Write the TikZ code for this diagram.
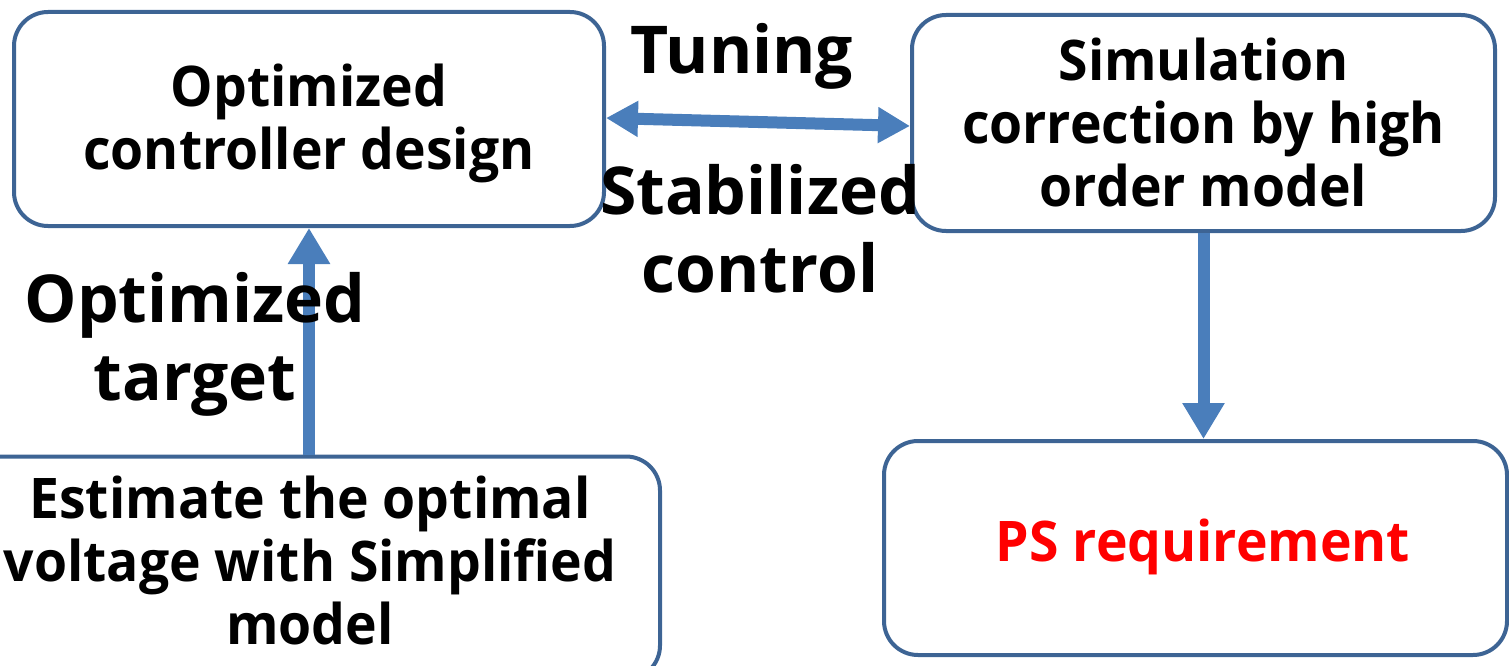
\documentclass[tikz,border=0pt]{standalone}
\usepackage{fontspec}
\newfontfamily\dfont{Open Sans}
\newfontfamily\nfont{Open Sans}[FakeStretch=0.955]
\usetikzlibrary{arrows.meta}
\definecolor{boxline}{HTML}{3D6494}
\definecolor{arrowblue}{HTML}{4A7EBB}
\definecolor{psred}{HTML}{FF0000}
\tikzset{
  stagebox/.style={draw=boxline, line width=4pt, rounded corners=34pt, fill=white, inner sep=0pt},
  boxtext/.style={align=center, inner sep=0pt, font=\nfont\bfseries\fontsize{56}{63}\selectfont},
  flowarrow/.style={draw=arrowblue, line width=12pt,
    -{Triangle[length=36pt,width=40pt]}},
  biarrow/.style={draw=arrowblue, line width=12pt,
    {Triangle[length=32pt,width=34pt]}-{Triangle[length=32pt,width=34pt]}},
  biglabel/.style={align=center, inner sep=0pt, font=\dfont\bfseries\fontsize{66}{78}\selectfont}
}
\begin{document}
\begin{tikzpicture}[x=1pt,y=-1pt]
\useasboundingbox (0,0) rectangle (1509,666);
\node[stagebox, minimum width=590pt, minimum height=214pt] (A) at (309,119) {};
\node[stagebox, minimum width=583pt, minimum height=216pt] (B) at (1203.5,123) {};
\node[stagebox, minimum width=700pt, minimum height=223pt] (C) at (310,568) {};
\node[stagebox, minimum width=623pt, minimum height=214pt] (D) at (1195.5,548) {};
\node[boxtext] (At) at (309,123) {Optimized\\controller design};
\node[boxtext] (Bt) at (1203.5,122) {Simulation\\correction by high\\order model};
\node[boxtext] (Ct) at (310,560) {Estimate the optimal\\voltage with Simplified\\model};
\node[boxtext, text=psred] (Dt) at (1203,547) {PS requirement};
\draw[biarrow] ([yshift=1pt]A.east) -- ([yshift=-3pt]B.west);
\draw[flowarrow] (A.south |- C.north) -- (A.south);
\draw[flowarrow] (B.south) -- (B.south |- D.north);
\node[biglabel] (tun) at (742,56) {Tuning};
\node[biglabel] (stab) at (760,229) {Stabilized\\control};
\node[biglabel] (opt) at (195,344) {Optimized\\target};
\end{tikzpicture}
\end{document}
